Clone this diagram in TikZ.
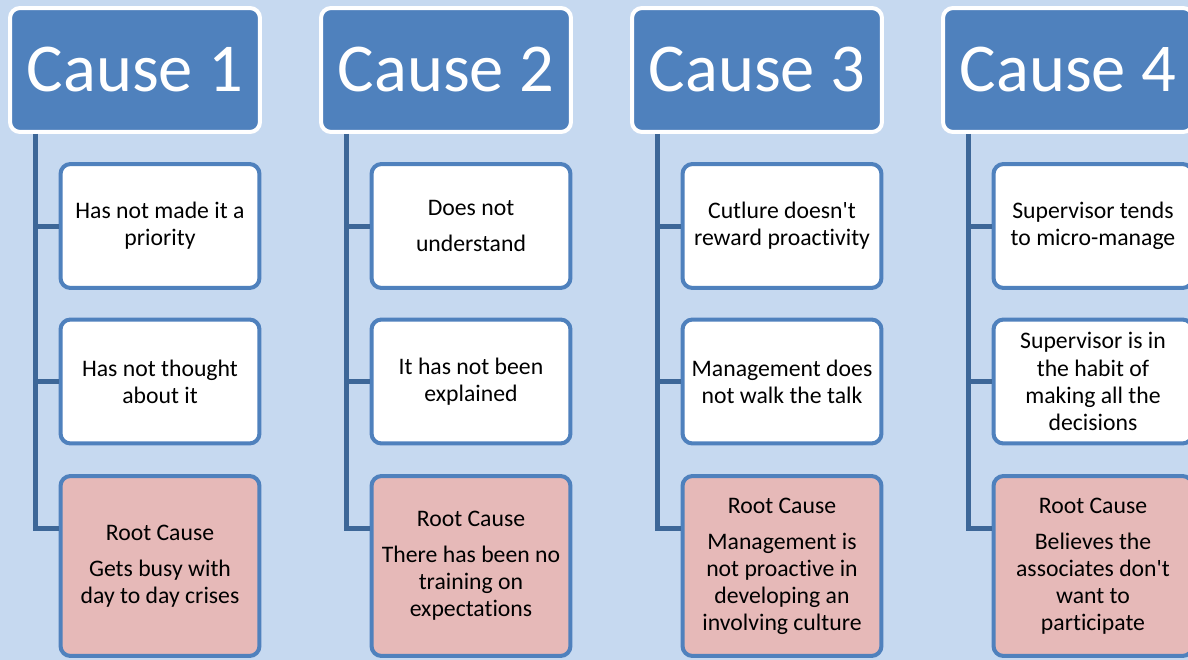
\documentclass[tikz,border=0pt]{standalone}
\usepackage{fontspec}
\setmainfont{Carlito}[Ligatures=NoCommon]
\definecolor{pagebg}{HTML}{C6D9F0}
\definecolor{headblue}{HTML}{4F81BD}
\definecolor{linkblue}{HTML}{3D6798}
\definecolor{rootpink}{HTML}{E6B9B8}

\begin{document}
\begin{tikzpicture}[x=0.02cm,y=-0.02cm]
    \tikzstyle{every node}+=[inner sep=0pt, align=center]
    \tikzstyle{cause}=[draw=white, line width=0.08cm, fill=headblue, rounded corners=0.2cm, minimum width=5cm, minimum height=2.48cm, text=white, font=\fontsize{39}{47}\selectfont]
    \tikzstyle{reason}=[draw=headblue, line width=0.08cm, fill=white, rounded corners=0.2cm, minimum width=3.98cm, minimum height=2.48cm, font=\fontsize{13.5}{15.4}\selectfont]
    \tikzstyle{rootbox}=[reason, fill=rootpink, minimum height=3.6cm]
    \tikzstyle{link}=[draw=linkblue, line width=0.1cm]
    \fill [pagebg] (0,0) rectangle (1188,660);
    \clip (0,0) rectangle (1188,660);
    % column 1
    \node [cause] (h1) at (135,70) {Cause 1};
    \node [reason] (a1) at (160,226) {Has not made it a\\priority};
    \node [reason] (b1) at (160,381.5) {Has not thought\\about it};
    \node [rootbox] (r1) at (160,566) {Root Cause\\[0.18cm]Gets busy with\\day to day crises};
    \coordinate (t1) at ([xshift=0.54cm]h1.south west);
    \draw [link] (t1) |- (a1.west) (t1) |- (b1.west) (t1) |- ([yshift=0.76cm]r1.west);
    % column 2
    \node [cause] (h2) at (446,70) {Cause 2};
    \node [reason] (a2) at (471,226) {Does not\\[0.18cm]understand};
    \node [reason] (b2) at (471,381.5) {It has not been\\explained};
    \node [rootbox] (r2) at (471,566) {Root Cause\\[0.18cm]There has been no\\training on\\expectations};
    \coordinate (t2) at ([xshift=0.54cm]h2.south west);
    \draw [link] (t2) |- (a2.west) (t2) |- (b2.west) (t2) |- ([yshift=0.76cm]r2.west);
    % column 3
    \node [cause] (h3) at (757,70) {Cause 3};
    \node [reason] (a3) at (782,226) {Cutlure doesn\textquotesingle t\\reward proactivity};
    \node [reason] (b3) at (782,381.5) {Management does\\not walk the talk};
    \node [rootbox] (r3) at (782,566) {Root Cause\\[0.18cm]Management is\\not proactive in\\developing an\\involving culture};
    \coordinate (t3) at ([xshift=0.54cm]h3.south west);
    \draw [link] (t3) |- (a3.west) (t3) |- (b3.west) (t3) |- ([yshift=0.76cm]r3.west);
    % column 4
    \node [cause] (h4) at (1068,70) {Cause 4};
    \node [reason] (a4) at (1093,226) {Supervisor tends\\to micro-manage};
    \node [reason] (b4) at (1093,381.5) {Supervisor is in\\the habit of\\making all the\\decisions};
    \node [rootbox] (r4) at (1093,566) {Root Cause\\[0.18cm]Believes the\\associates don\textquotesingle t\\want to\\participate};
    \coordinate (t4) at ([xshift=0.54cm]h4.south west);
    \draw [link] (t4) |- (a4.west) (t4) |- (b4.west) (t4) |- ([yshift=0.76cm]r4.west);
\end{tikzpicture}
\end{document}
